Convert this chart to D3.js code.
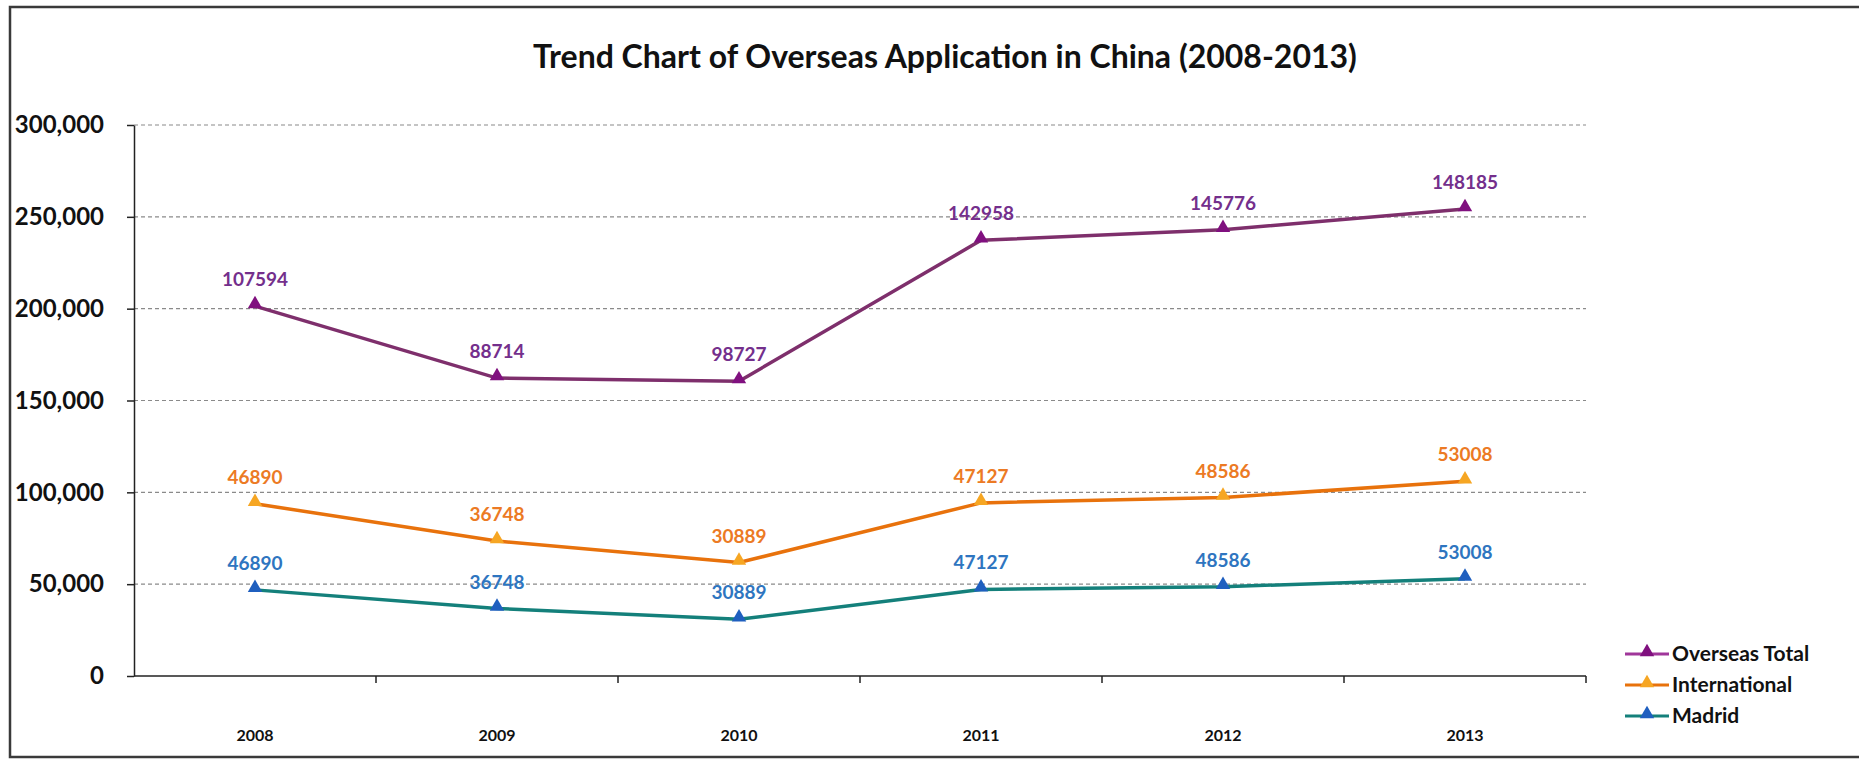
<!DOCTYPE html>
<html>
<head>
<meta charset="utf-8">
<script src="https://cdn.jsdelivr.net/npm/d3@7"></script>
<style>
  html, body { margin: 0; padding: 0; background: #fff; }
  svg { display: block; font-family: Lato, "Open Sans", sans-serif; }
</style>
</head>
<body>
<svg id="chart"></svg>
<script>
// Data
const years = ["2008", "2009", "2010", "2011", "2012", "2013"];
const madrid = [46890, 36748, 30889, 47127, 48586, 53008];
const international = [46890, 36748, 30889, 47127, 48586, 53008];
const overseasTotal = [107594, 88714, 98727, 142958, 145776, 148185];
const yTicks = [0, 50000, 100000, 150000, 200000, 250000, 300000];

const seriesNames = ["Madrid", "International", "Overseas Total"];
const legendOrder = ["Overseas Total", "International", "Madrid"];

const styles = {
  "Madrid": { line: "#14807b", marker: "#1f5fbf", label: "#2e75c0" },
  "International": { line: "#e8720c", marker: "#f6a623", label: "#ec7a24" },
  "Overseas Total": { line: "#7e2f6c", marker: "#80107f", label: "#742f8c" }
};

const rows = years.map((y, i) => ({
  year: y,
  "Madrid": madrid[i],
  "International": international[i],
  "Overseas Total": overseasTotal[i]
}));

// Chart Dimensions
const width = 1859;
const height = 761;
const plotLeft = 134, plotRight = 1586, plotTop = 125, plotBottom = 676;

const svg = d3.select("#chart").attr("width", width).attr("height", height);

// outer frame
svg.append("rect")
  .attr("x", 10).attr("y", 7)
  .attr("width", 1880).attr("height", 750)
  .attr("fill", "none").attr("stroke", "#3a3a3a").attr("stroke-width", 2.5);

// Title
svg.append("text")
  .attr("x", 945).attr("y", 68)
  .attr("text-anchor", "middle")
  .attr("font-size", 32).attr("font-weight", "bold")
  .attr("fill", "#111")
  .text("Trend Chart of Overseas Application in China (2008-2013)");

// Scales
const xScale = d3.scaleBand().domain(years).range([plotLeft, plotRight]);
const yScale = d3.scaleLinear().domain([0, 300000]).range([plotBottom, plotTop]);
const cx = (d) => xScale(d) + xScale.bandwidth() / 2;

// Gridlines
svg.append("g")
  .selectAll("line")
  .data(yTicks.filter((t) => t > 0))
  .enter()
  .append("line")
  .attr("x1", plotLeft).attr("x2", plotRight)
  .attr("y1", (d) => yScale(d)).attr("y2", (d) => yScale(d))
  .attr("stroke", "#8a8a8a").attr("stroke-width", 1.2)
  .attr("stroke-dasharray", "4,3");

// Y Axis
const yAxis = d3.axisLeft(yScale)
  .tickValues(yTicks)
  .tickSize(7)
  .tickSizeOuter(0)
  .tickFormat(d3.format(","));
const gy = svg.append("g")
  .attr("transform", `translate(${plotLeft},0)`)
  .call(yAxis);
gy.select(".domain").attr("stroke", "#222").attr("stroke-width", 1.5);
gy.selectAll(".tick line").attr("stroke", "#222").attr("stroke-width", 1.5);
gy.selectAll(".tick text")
  .attr("x", -30)
  .attr("font-family", "Lato, sans-serif")
  .attr("font-size", 24).attr("font-weight", "bold")
  .attr("fill", "#111");

// X Axis
svg.append("line")
  .attr("x1", plotLeft).attr("x2", plotRight)
  .attr("y1", plotBottom).attr("y2", plotBottom)
  .attr("stroke", "#222").attr("stroke-width", 1.5);

const boundaries = years.map((d) => xScale(d)).concat([plotRight]);
svg.append("g")
  .selectAll("line")
  .data(boundaries.slice(1))
  .enter()
  .append("line")
  .attr("x1", (d) => d).attr("x2", (d) => d)
  .attr("y1", plotBottom).attr("y2", plotBottom + 7)
  .attr("stroke", "#222").attr("stroke-width", 1.5);

svg.append("g")
  .selectAll("text")
  .data(years)
  .enter()
  .append("text")
  .attr("x", (d) => cx(d))
  .attr("y", 741)
  .attr("text-anchor", "middle")
  .attr("font-size", 16).attr("font-weight", "bold")
  .attr("fill", "#111")
  .text((d) => d);

// Stacked lines
const stacked = d3.stack().keys(seriesNames)(rows);

const line = d3.line()
  .x((d) => cx(d.data.year))
  .y((d) => yScale(d[1]));

const triangle = d3.symbol().type(d3.symbolTriangle).size(90);

stacked.forEach((s) => {
  const st = styles[s.key];
  const g = svg.append("g");

  g.append("path")
    .datum(s)
    .attr("d", line)
    .attr("fill", "none")
    .attr("stroke", st.line)
    .attr("stroke-width", 3.5);

  g.selectAll(".marker")
    .data(s)
    .enter()
    .append("path")
    .attr("class", "marker")
    .attr("d", triangle)
    .attr("transform", (d) => `translate(${cx(d.data.year)},${yScale(d[1]) - 2})`)
    .attr("fill", st.marker);

  g.selectAll(".label")
    .data(s)
    .enter()
    .append("text")
    .attr("class", "label")
    .attr("x", (d) => cx(d.data.year))
    .attr("y", (d) => yScale(d[1]) - 20)
    .attr("text-anchor", "middle")
    .attr("font-size", 19).attr("font-weight", "bold")
    .attr("fill", st.label)
    .text((d) => d.data[s.key]);
});

// Legend
const legend = svg.append("g");
legendOrder.forEach((name, i) => {
  const st = styles[name];
  const ly = 654 + i * 31;
  legend.append("line")
    .attr("x1", 1625).attr("x2", 1669)
    .attr("y1", ly).attr("y2", ly)
    .attr("stroke", name === "Overseas Total" ? "#a0369a" : st.line)
    .attr("stroke-width", 3);
  legend.append("path")
    .attr("d", triangle)
    .attr("transform", `translate(1647,${ly - 2})`)
    .attr("fill", st.marker);
  legend.append("text")
    .attr("x", 1672).attr("y", ly + 7)
    .attr("font-size", 21).attr("font-weight", "bold")
    .attr("fill", "#111")
    .text(name);
});
</script>
</body>
</html>
